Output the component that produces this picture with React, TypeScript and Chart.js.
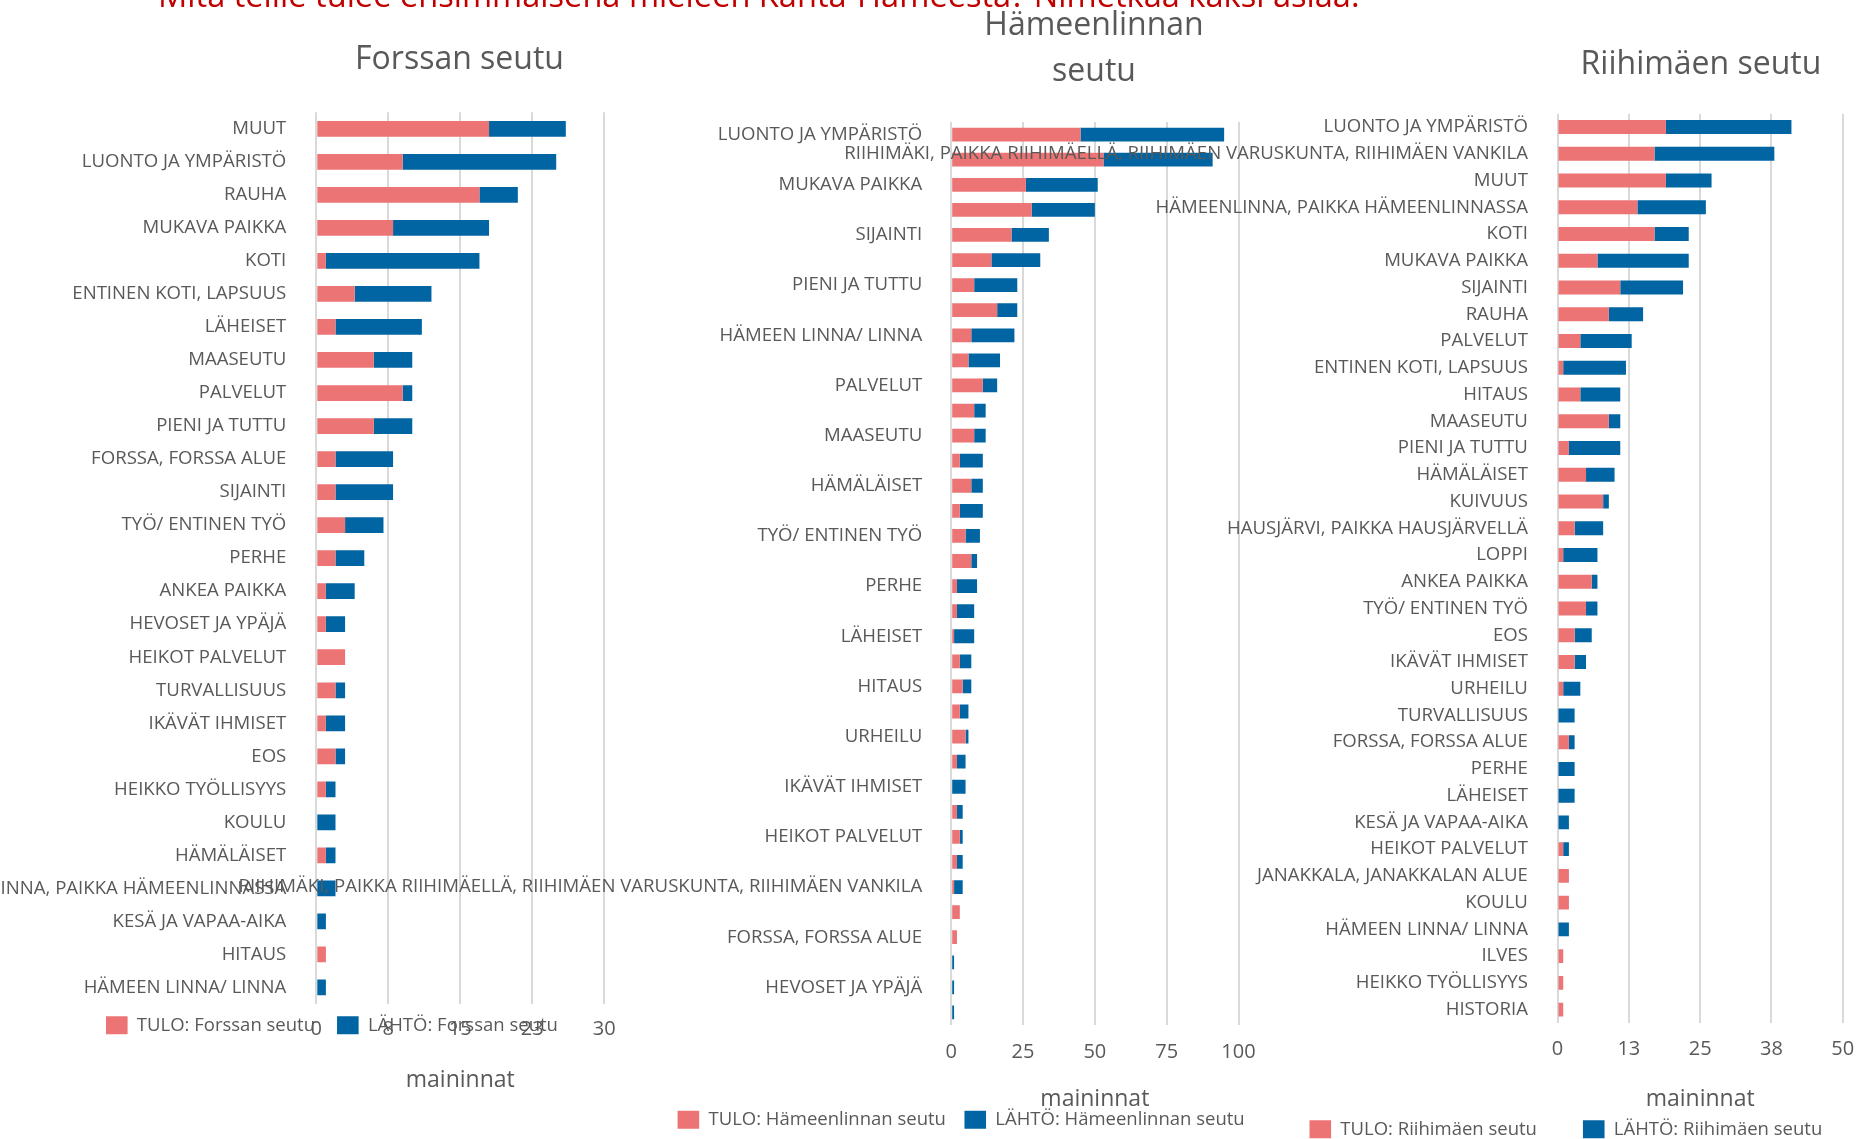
import React, { useEffect, useRef } from 'react';
import { Chart, registerables } from 'chart.js';

Chart.register(...registerables);

const FONT = "'Open Sans', 'Noto Sans', sans-serif";
const TEXT = '#595959';
const GRID = '#D9D9D9';
const TULO_COLOR = '#EC7474';
const LAHTO_COLOR = '#0065A2';
const PAGE_W = 1859;
const PAGE_H = 1139;
const CANVAS_W = 1900;

const QUESTION = 'Mitä teille tulee ensimmäisenä mieleen Kanta-Hämeestä? Nimetkää kaksi asiaa.';
const AXIS_TITLE = 'maininnat';

// ---------- Forssan seutu ----------
const forssaCategories = [
  'MUUT', 'LUONTO JA YMPÄRISTÖ', 'RAUHA', 'MUKAVA PAIKKA', 'KOTI', 'ENTINEN KOTI, LAPSUUS',
  'LÄHEISET', 'MAASEUTU', 'PALVELUT', 'PIENI JA TUTTU', 'FORSSA, FORSSA ALUE', 'SIJAINTI',
  'TYÖ/ ENTINEN TYÖ', 'PERHE', 'ANKEA PAIKKA', 'HEVOSET JA YPÄJÄ', 'HEIKOT PALVELUT',
  'TURVALLISUUS', 'IKÄVÄT IHMISET', 'EOS', 'HEIKKO TYÖLLISYYS', 'KOULU', 'HÄMÄLÄISET',
  'HÄMEENLINNA, PAIKKA HÄMEENLINNASSA', 'KESÄ JA VAPAA-AIKA', 'HITAUS', 'HÄMEEN LINNA/ LINNA',
];
const forssaTulo = [18, 9, 17, 8, 1, 4, 2, 6, 9, 6, 2, 2, 3, 2, 1, 1, 3, 2, 1, 2, 1, 0, 1, 0, 0, 1, 0];
const forssaLahto = [8, 16, 4, 10, 16, 8, 9, 4, 1, 4, 6, 6, 4, 3, 3, 2, 0, 1, 2, 1, 1, 2, 1, 2, 1, 0, 1];
const forssaTicks = ['0', '8', '15', '23', '30'];

// ---------- Hämeenlinnan seutu ----------
const hmlCategories = [
  'LUONTO JA YMPÄRISTÖ', 'HÄMEENLINNA, PAIKKA HÄMEENLINNASSA', 'MUKAVA PAIKKA', 'MUUT', 'SIJAINTI',
  'KOTI', 'PIENI JA TUTTU', 'RAUHA', 'HÄMEEN LINNA/ LINNA', 'ENTINEN KOTI, LAPSUUS', 'PALVELUT',
  'ANKEA PAIKKA', 'MAASEUTU', 'EOS', 'HÄMÄLÄISET', 'KESÄ JA VAPAA-AIKA', 'TYÖ/ ENTINEN TYÖ',
  'TURVALLISUUS', 'PERHE', 'KOULU', 'LÄHEISET', 'HEIKKO TYÖLLISYYS', 'HITAUS',
  'JANAKKALA, JANAKKALAN ALUE', 'URHEILU', 'LOPPI', 'IKÄVÄT IHMISET', 'HAUSJÄRVI, PAIKKA HAUSJÄRVELLÄ',
  'HEIKOT PALVELUT', 'KUIVUUS', 'RIIHIMÄKI, PAIKKA RIIHIMÄELLÄ, RIIHIMÄEN VARUSKUNTA, RIIHIMÄEN VANKILA',
  'ILVES', 'FORSSA, FORSSA ALUE', 'HISTORIA', 'HEVOSET JA YPÄJÄ', 'KULTTUURI',
];
const hmlTulo = [45, 53, 26, 28, 21, 14, 8, 16, 7, 6, 11, 8, 8, 3, 7, 3, 5, 7, 2, 2, 1, 3, 4, 3, 5, 2, 0, 2, 3, 2, 1, 3, 2, 0, 0, 0];
const hmlLahto = [50, 38, 25, 22, 13, 17, 15, 7, 15, 11, 5, 4, 4, 8, 4, 8, 5, 2, 7, 6, 7, 4, 3, 3, 1, 3, 5, 2, 1, 2, 3, 0, 0, 1, 1, 1];
const hmlTicks = ['0', '25', '50', '75', '100'];

// ---------- Riihimäen seutu ----------
const riiCategories = [
  'LUONTO JA YMPÄRISTÖ', 'RIIHIMÄKI, PAIKKA RIIHIMÄELLÄ, RIIHIMÄEN VARUSKUNTA, RIIHIMÄEN VANKILA',
  'MUUT', 'HÄMEENLINNA, PAIKKA HÄMEENLINNASSA', 'KOTI', 'MUKAVA PAIKKA', 'SIJAINTI', 'RAUHA',
  'PALVELUT', 'ENTINEN KOTI, LAPSUUS', 'HITAUS', 'MAASEUTU', 'PIENI JA TUTTU', 'HÄMÄLÄISET',
  'KUIVUUS', 'HAUSJÄRVI, PAIKKA HAUSJÄRVELLÄ', 'LOPPI', 'ANKEA PAIKKA', 'TYÖ/ ENTINEN TYÖ', 'EOS',
  'IKÄVÄT IHMISET', 'URHEILU', 'TURVALLISUUS', 'FORSSA, FORSSA ALUE', 'PERHE', 'LÄHEISET',
  'KESÄ JA VAPAA-AIKA', 'HEIKOT PALVELUT', 'JANAKKALA, JANAKKALAN ALUE', 'KOULU',
  'HÄMEEN LINNA/ LINNA', 'ILVES', 'HEIKKO TYÖLLISYYS', 'HISTORIA',
];
const riiTulo = [19, 17, 19, 14, 17, 7, 11, 9, 4, 1, 4, 9, 2, 5, 8, 3, 1, 6, 5, 3, 3, 1, 0, 2, 0, 0, 0, 1, 2, 2, 0, 1, 1, 1];
const riiLahto = [22, 21, 8, 12, 6, 16, 11, 6, 9, 11, 7, 2, 9, 5, 1, 5, 6, 1, 2, 3, 2, 3, 3, 1, 3, 3, 2, 1, 0, 0, 2, 0, 0, 0];
const riiTicks = ['0', '13', '25', '38', '50'];

type Spec = {
  title: string | string[];
  titleLH: number;
  titleX: number;
  titleTop: number;
  categories: string[];
  tulo: number[];
  lahto: number[];
  tuloLabel: string;
  lahtoLabel: string;
  ticks: string[];
  max: number;
  step: number;
  labelEvery: number;
  pad: { left: number; right: number; top: number; bottom: number };
  yW: number;
  yPad: number;
  xH: number;
  xTickPad: number;
  barPct: number;
  legendX: number;
  legendY: number;
  legendPad: number;
};

const specs: Spec[] = [
  {
    title: 'Forssan seutu', titleLH: 1.2, titleX: 459.5, titleTop: 41,
    categories: forssaCategories, tulo: forssaTulo, lahto: forssaLahto,
    tuloLabel: 'TULO: Forssan seutu', lahtoLabel: 'LÄHTÖ: Forssan seutu',
    ticks: forssaTicks, max: 30, step: 7.5, labelEvery: 1,
    pad: { left: 0, right: CANVAS_W - 604.2, top: 73.9, bottom: 44.4 },
    yW: 316.3, yPad: 30, xH: 90.6, xTickPad: 13.5, barPct: 0.477,
    legendX: 106, legendY: 1016, legendPad: 22,
  },
  {
    title: ['Hämeenlinnan', 'seutu'], titleLH: 1.4375, titleX: 1094, titleTop: 2.5,
    categories: hmlCategories, tulo: hmlTulo, lahto: hmlLahto,
    tuloLabel: 'TULO: Hämeenlinnan seutu', lahtoLabel: 'LÄHTÖ: Hämeenlinnan seutu',
    ticks: hmlTicks, max: 100, step: 25, labelEvery: 2,
    pad: { left: 0, right: CANVAS_W - 1238.5, top: 30.1, bottom: 25.7 },
    yW: 951.2, yPad: 29, xH: 88.3, xTickPad: 15.5, barPct: 0.55,
    legendX: 677.6, legendY: 1110.5, legendPad: 18.5,
  },
  {
    title: 'Riihimäen seutu', titleLH: 1.2, titleX: 1701, titleTop: 45.2,
    categories: riiCategories, tulo: riiTulo, lahto: riiLahto,
    tuloLabel: 'TULO: Riihimäen seutu', lahtoLabel: 'LÄHTÖ: Riihimäen seutu',
    ticks: riiTicks, max: 50, step: 12.5, labelEvery: 1,
    pad: { left: 0, right: CANVAS_W - 1842.8, top: 75.3, bottom: 25.5 },
    yW: 1557.5, yPad: 29.6, xH: 90.5, xTickPad: 14.7, barPct: 0.52,
    legendX: 1309.5, legendY: 1120, legendPad: 46,
  },
];

function placer(spec: Spec) {
  return {
    id: 'placer',
    afterLayout(chart: any) {
      const t = chart.titleBlock;
      if (t) {
        const w = 1000;
        const h = t.height;
        t.left = spec.titleX - w / 2;
        t.right = spec.titleX + w / 2;
        t.width = w;
        t.top = spec.titleTop;
        t.bottom = spec.titleTop + h;
      }
      const lg = chart.legend;
      if (lg) {
        const p = lg.options.labels.padding;
        lg.left = spec.legendX - p;
        lg.right = chart.width + 600;
        lg.width = lg.right - lg.left;
        lg.top = spec.legendY - p;
        lg.height = 120;
        lg.bottom = lg.top + 120;
      }
    },
  };
}

function buildConfig(spec: Spec): any {
  return {
    type: 'bar',
    data: {
      labels: spec.categories,
      datasets: [
        {
          label: spec.tuloLabel, data: spec.tulo, backgroundColor: TULO_COLOR, borderWidth: 0,
          barPercentage: spec.barPct, categoryPercentage: 1,
        },
        {
          label: spec.lahtoLabel, data: spec.lahto, backgroundColor: LAHTO_COLOR, borderWidth: 0,
          barPercentage: spec.barPct, categoryPercentage: 1,
        },
      ],
    },
    options: {
      indexAxis: 'y',
      responsive: false,
      animation: false,
      devicePixelRatio: 1,
      events: [],
      layout: { padding: spec.pad },
      scales: {
        x: {
          stacked: true,
          min: 0,
          max: spec.max,
          ticks: {
            stepSize: spec.step,
            padding: spec.xTickPad,
            color: TEXT,
            font: { family: FONT, size: 20 },
            maxRotation: 0,
            autoSkip: false,
            callback: (_v: any, i: number) => spec.ticks[i] ?? '',
          },
          grid: { color: GRID, lineWidth: 2, drawTicks: false },
          border: { display: false },
          title: {
            display: true, text: AXIS_TITLE, color: TEXT,
            font: { family: FONT, size: 23, lineHeight: 1.2 }, padding: 0,
          },
          afterFit: (s: any) => { s.height = spec.xH; },
        },
        y: {
          stacked: true,
          ticks: {
            padding: spec.yPad,
            color: TEXT,
            font: { family: FONT, size: 18.6 },
            autoSkip: false,
            callback: (_v: any, i: number) => (i % spec.labelEvery === 0 ? spec.categories[i] : ''),
          },
          grid: { display: false, drawTicks: false },
          border: { display: false },
          afterFit: (s: any) => { s.width = spec.yW; },
        },
      },
      plugins: {
        title: {
          display: true, text: spec.title, color: TEXT, padding: 0,
          font: { family: FONT, size: 32, weight: 'normal', lineHeight: spec.titleLH },
        },
        legend: {
          display: true, position: 'bottom', align: 'start', maxHeight: 0.001,
          labels: {
            boxWidth: 21.6, boxHeight: 18, padding: spec.legendPad, color: TEXT,
            font: { family: FONT, size: 18.5 },
          },
        },
        tooltip: { enabled: false },
      },
    },
    plugins: [placer(spec)],
  };
}

function BarPanel({ spec }: { spec: Spec }) {
  const ref = useRef<HTMLCanvasElement | null>(null);
  useEffect(() => {
    if (!ref.current) return;
    const chart = new Chart(ref.current, buildConfig(spec));
    return () => chart.destroy();
  }, [spec]);
  return (
    <canvas
      ref={ref}
      width={CANVAS_W}
      height={PAGE_H}
      style={{ position: 'absolute', left: 0, top: 0, width: CANVAS_W, height: PAGE_H }}
    />
  );
}

export default function App() {
  Chart.defaults.font.family = FONT;
  Chart.defaults.color = TEXT;
  return (
    <div
      style={{
        position: 'fixed', left: 0, top: 0, width: PAGE_W, height: PAGE_H,
        overflow: 'hidden', background: '#ffffff',
      }}
    >
      {specs.map((s, i) => (
        <BarPanel key={i} spec={s} />
      ))}
      <div
        style={{
          position: 'absolute', left: 158, top: -21, fontFamily: FONT, fontSize: 32.6,
          lineHeight: '32px', color: '#C00000', whiteSpace: 'nowrap',
        }}
      >
        {QUESTION}
      </div>
    </div>
  );
}
